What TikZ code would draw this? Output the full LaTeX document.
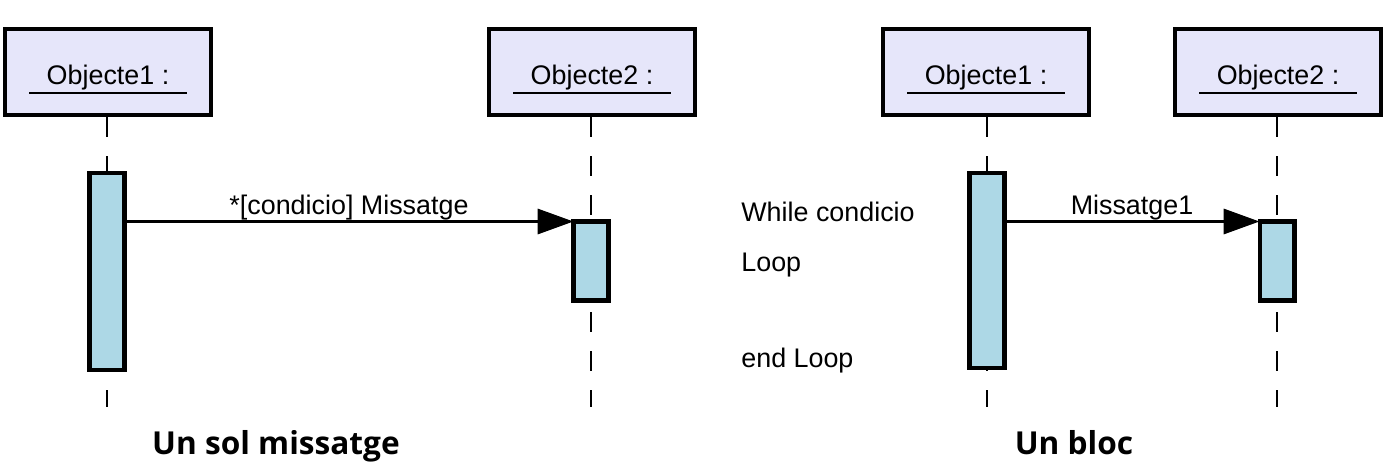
\documentclass[tikz,border=0pt]{standalone}
\usepackage{fontspec}
\setmainfont{Liberation Sans}
\newfontfamily\titlefont{Open Sans}
\usepackage{tikz}
\usetikzlibrary{arrows.meta, calc}

\definecolor{objfill}{HTML}{E6E6FA}
\definecolor{actfill}{HTML}{ADD8E6}

\begin{document}
\begin{tikzpicture}[x=0.02cm, y=-0.02cm,
    objbox/.style={draw, line width=2.5pt, fill=objfill, minimum width=4.12cm, minimum height=1.72cm},
    objname/.style={anchor=base, inner sep=0pt, font=\fontsize{15.3}{18}\selectfont},
    uline/.style={line width=1.1pt},
    lifeline/.style={line width=1.1pt, dash pattern=on 0.4cm off 0.38cm},
    act/.style={draw, line width=2.3pt, fill=actfill, minimum width=0.7cm, inner sep=0pt, outer sep=0pt},
    msg/.style={line width=2pt, -{Triangle[length=0.72cm, width=0.5cm]}},
    msglabel/.style={above, inner sep=0pt, font=\fontsize{15.3}{18}\selectfont},
    note/.style={anchor=base west, inner sep=0pt, font=\fontsize{15.3}{18}\selectfont},
    caption/.style={anchor=base, inner sep=0pt, font=\titlefont\bfseries\fontsize{18}{22}\selectfont}]

    \useasboundingbox (0,0) rectangle (1392,472);

    % Object boxes
    \node[objbox] (o1) at (108,72) {};
    \node[objbox] (o2) at (592,72) {};
    \node[objbox] (o3) at (986,72) {};
    \node[objbox] (o4) at (1278,72) {};

    % Names, underlined
    \node[objname] (n1) at (108,85) {Objecte1 :};
    \node[objname] (n2) at (592,85) {Objecte2 :};
    \node[objname] (n3) at (986,85) {Objecte1 :};
    \node[objname] (n4) at (1278,85) {Objecte2 :};
    \foreach \n in {n1, n2, n3, n4} {
        \draw[uline] ($(\n.base)+(-79,8)$) -- ($(\n.base)+(79,8)$);
    }

    % Lifelines
    \coordinate (e1) at (107,407);
    \coordinate (e2) at (591,407);
    \coordinate (e3) at (987,407);
    \coordinate (e4) at (1277,407);
    \draw[lifeline] (e1 |- o1.south) -- (e1);
    \draw[lifeline] (e2 |- o2.south) -- (e2);
    \draw[lifeline] (e3 |- o3.south) -- (e3);
    \draw[lifeline] (e4 |- o4.south) -- (e4);

    % Activations
    \node[act, minimum height=3.94cm] (a1) at (107,271.5) {};
    \node[act, minimum height=1.58cm] (a2) at (591,261) {};
    \node[act, minimum height=3.9cm] (a3) at (987,270.5) {};
    \node[act, minimum height=1.58cm] (a4) at (1277,261) {};

    % Messages
    \draw[msg] (a1.east |- a2.north west) -- (a2.north west)
        node[msglabel, midway] (m1) {*[condicio] Missatge};
    \draw[msg] (a3.east |- a4.north west) -- (a4.north west)
        node[msglabel, midway] (m2) {Missatge1};

    % Loop notes
    \node[note] (w1) at (741,222) {While condicio};
    \node[note] (w2) at (741,272) {Loop};
    \node[note] (w3) at (741,368) {end Loop};

    % Captions
    \node[caption] (c1) at (276,455) {Un sol missatge};
    \node[caption] (c2) at (1074,455) {Un bloc};
\end{tikzpicture}
\end{document}
